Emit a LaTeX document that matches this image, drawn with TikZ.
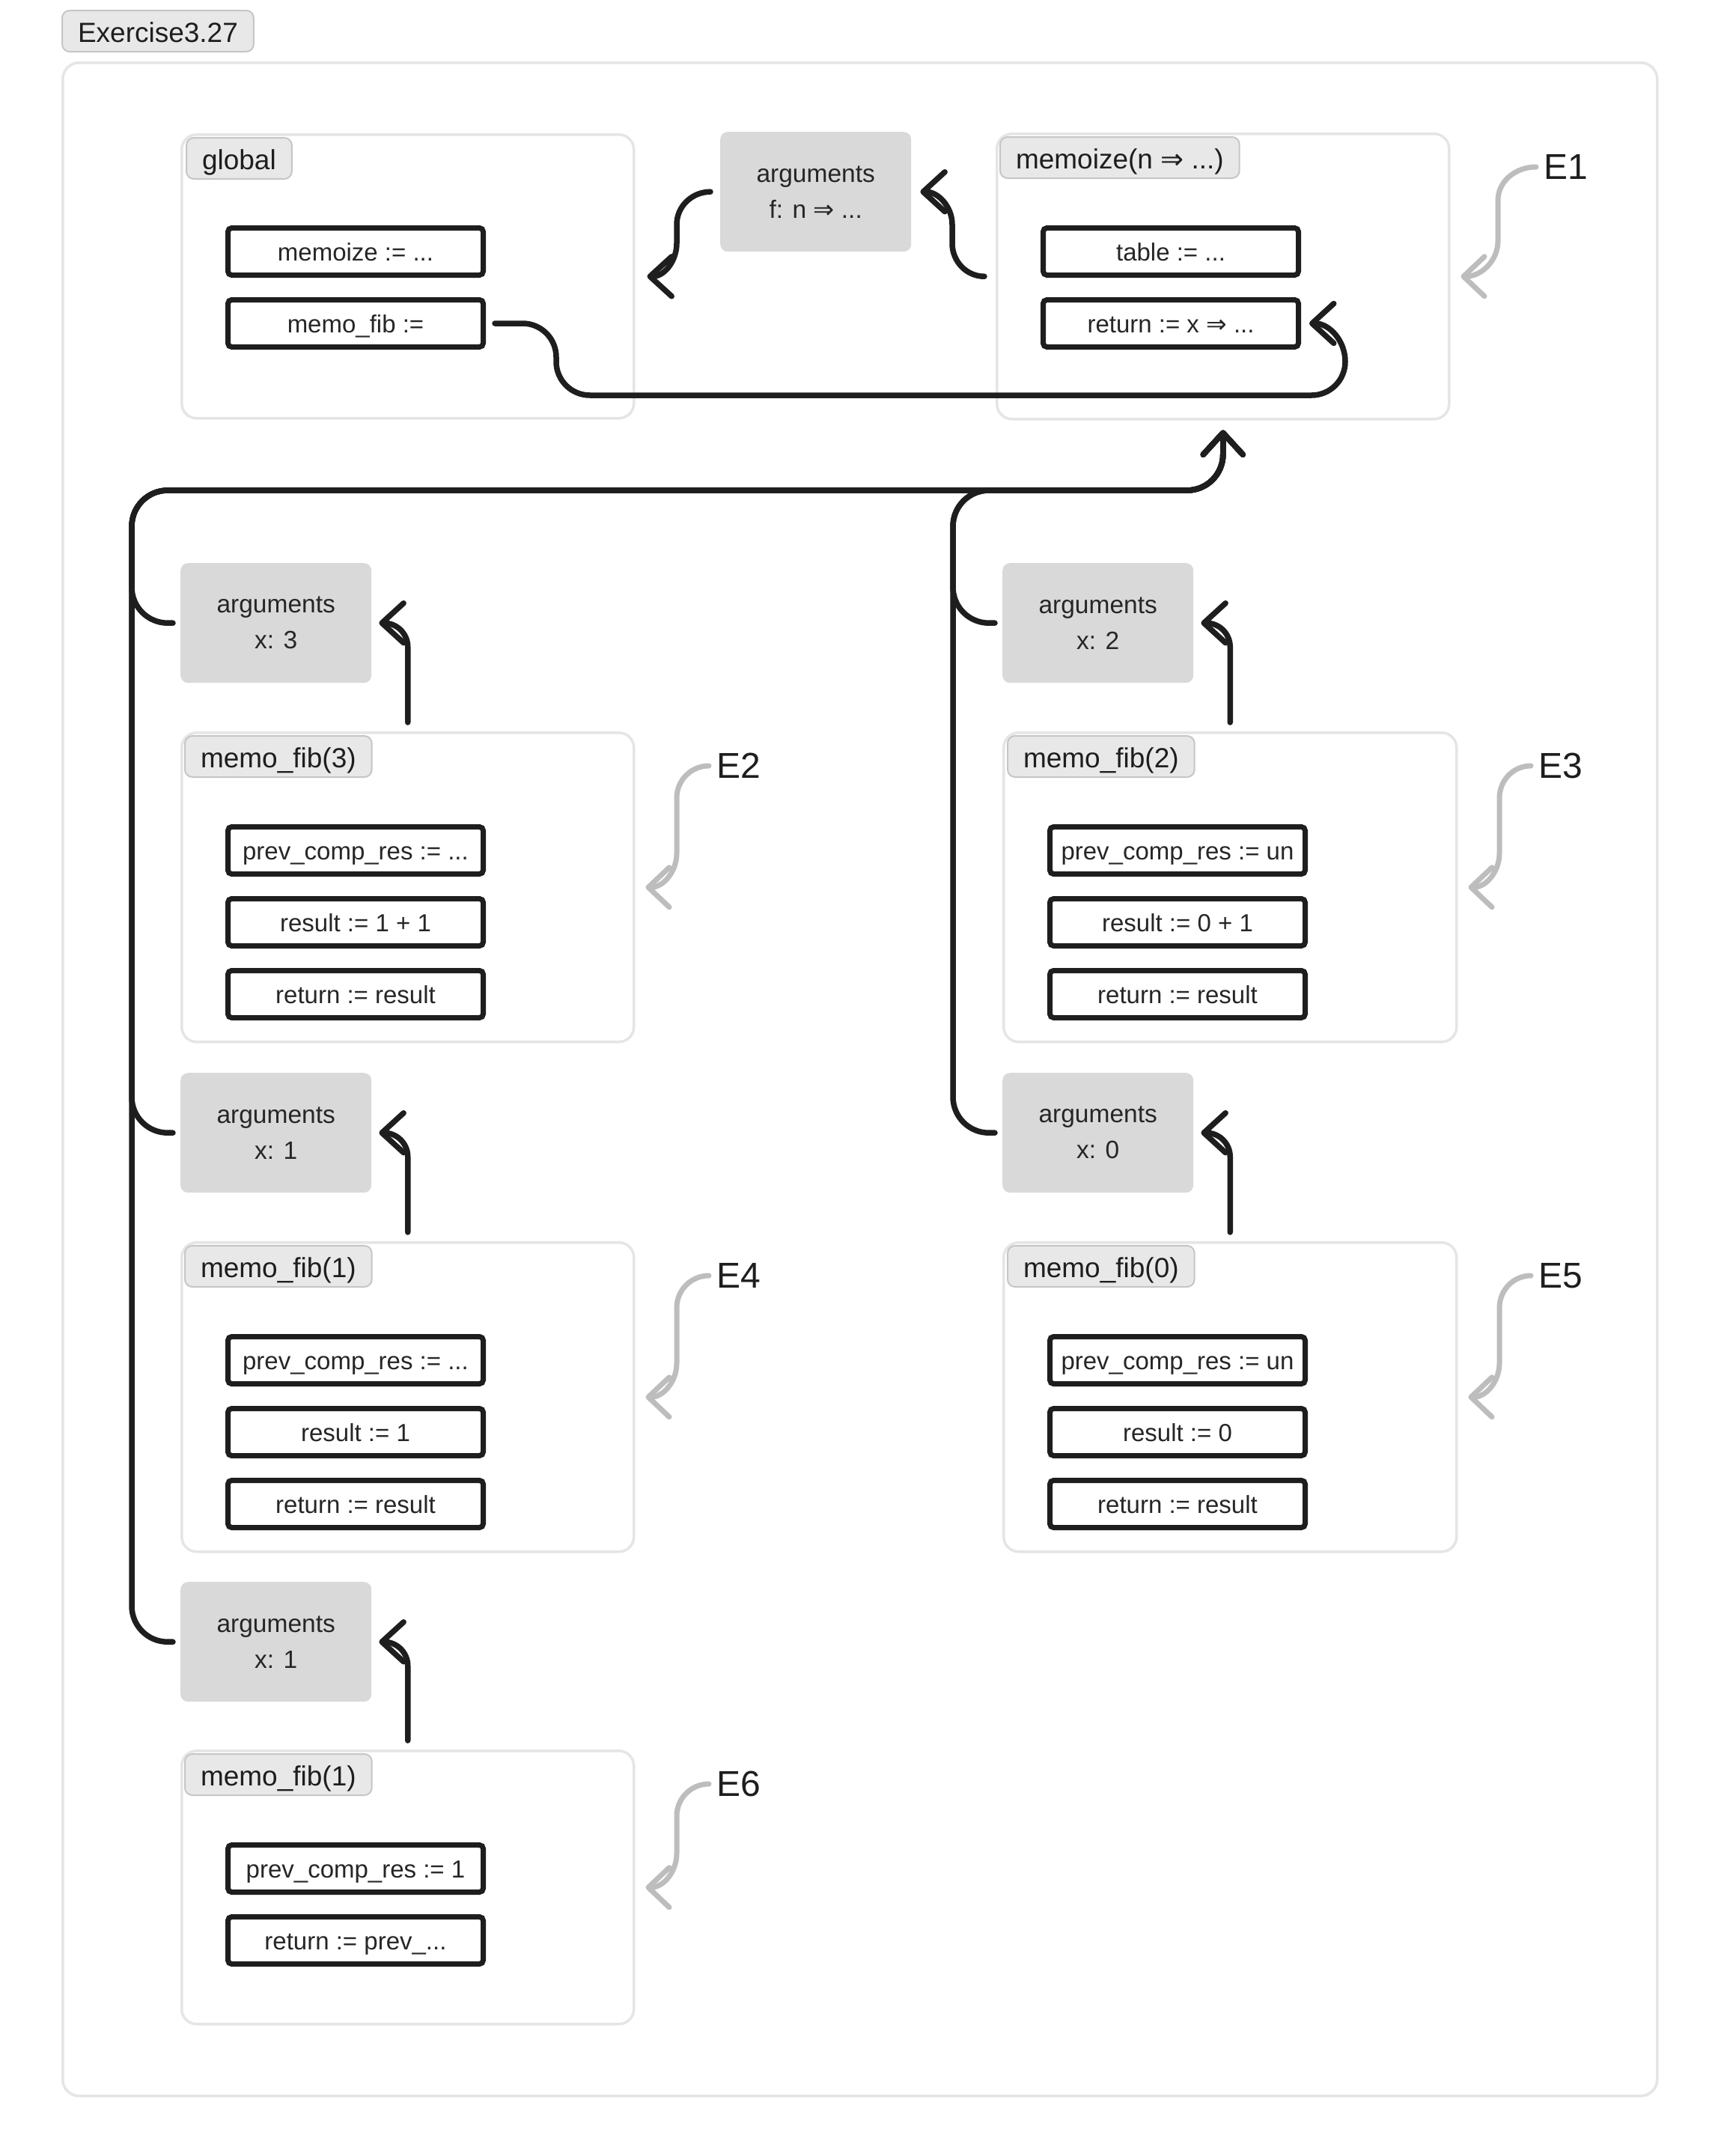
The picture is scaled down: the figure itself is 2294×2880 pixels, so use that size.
\documentclass[tikz,border=0pt]{standalone}
\usepackage{fontspec}
\setmainfont{Liberation Sans}
\newfontfamily\symfont{DejaVu Sans}
\usetikzlibrary{arrows.meta,calc}
\definecolor{ink}{HTML}{1E1E1E}
\definecolor{txt}{HTML}{262626}
\definecolor{framec}{HTML}{E5E5E5}
\definecolor{tabfill}{HTML}{E8E8E8}
\definecolor{tabline}{HTML}{C6C6C6}
\definecolor{argfill}{HTML}{D9D9D9}
\definecolor{gline}{HTML}{BDBDBD}
\newcommand{\dimp}{{\symfont ⇒}}
\begin{document}
\begin{tikzpicture}[x=1pt,y=-1pt,
 frame/.style={draw=framec, line width=3.5pt, rounded corners=20pt, anchor=north west, inner sep=0pt, fill=white},
 tabbox/.style={draw=tabline, line width=2pt, fill=tabfill, rounded corners=10pt, anchor=north west, minimum height=55pt, inner xsep=21pt, inner ysep=0pt, text height=30pt, text depth=0pt, font=\fontsize{37pt}{40pt}\selectfont, text=ink},
 valbox/.style={draw=ink, line width=7pt, rounded corners=5pt, fill=white, anchor=north west, minimum width=341pt, minimum height=63pt, inner sep=0pt, text height=24pt, text depth=0pt, font=\fontsize{33pt}{40pt}\selectfont, text=txt},
 argbox/.style={fill=argfill, rounded corners=10pt, anchor=north west, minimum width=255pt, minimum height=160pt, inner sep=0pt, align=center, font=\fontsize{33.5pt}{48pt}\selectfont, text=txt},
 elabel/.style={anchor=west, inner sep=0pt, font=\fontsize{48pt}{52pt}\selectfont, text=ink},
 conn/.style={draw=ink, line width=7.5pt, line cap=round, line join=round, -{Straight Barb[length=29pt,width=53pt,round]}},
 gconn/.style={draw=gline, line width=7pt, line cap=round, line join=round, -{Straight Barb[length=28pt,width=53pt,round]}},
]
\useasboundingbox (0,0) rectangle (2294,2880);
\fill[white] (0,0) rectangle (2294,2880);

% outer frame and title tab
\node[frame, minimum width=2130pt, minimum height=2716pt, rounded corners=22pt] (outer) at (82,82) {};
\node[tabbox] (extab) at (82,13) {Exercise3.27};

% frames
\node[frame, minimum width=604pt, minimum height=379pt] (gframe) at (241,178) {};
\node[frame, minimum width=604pt, minimum height=381pt] (mframe) at (1330,177) {};
\node[frame, minimum width=604pt, minimum height=413pt] (f3) at (241,977) {};
\node[frame, minimum width=605pt, minimum height=413pt] (f2) at (1339,977) {};
\node[frame, minimum width=604pt, minimum height=413pt] (f1) at (241,1658) {};
\node[frame, minimum width=605pt, minimum height=413pt] (f0) at (1339,1658) {};
\node[frame, minimum width=604pt, minimum height=365pt] (f1b) at (241,2337) {};

% tabs
\node[tabbox] (gtab) at (248,183) {global};
\node[tabbox] (mtab) at (1335,182) {memoize(n \dimp{} ...)};
\node[tabbox] (t3) at (246,982) {memo\_fib(3)};
\node[tabbox] (t2) at (1345,982) {memo\_fib(2)};
\node[tabbox] (t1) at (246,1663) {memo\_fib(1)};
\node[tabbox] (t0) at (1345,1663) {memo\_fib(0)};
\node[tabbox] (t1b) at (246,2342) {memo\_fib(1)};

% value boxes
\node[valbox] (gmem) at (301,301) {memoize := ...};
\node[valbox] (gfib) at (301,397) {memo\_fib :=};
\node[valbox] (mtab1) at (1390,301) {table := ...};
\node[valbox] (mret) at (1390,397) {return := x \dimp{} ...};
\node[valbox] (p3) at (301,1101) {prev\_comp\_res := ...};
\node[valbox] (r3) at (301,1197) {result := 1 + 1};
\node[valbox] (q3) at (301,1293) {return := result};
\node[valbox] (p2) at (1399,1101) {prev\_comp\_res := un};
\node[valbox] (r2) at (1399,1197) {result := 0 + 1};
\node[valbox] (q2) at (1399,1293) {return := result};
\node[valbox] (p1) at (301,1782) {prev\_comp\_res := ...};
\node[valbox] (r1) at (301,1878) {result := 1};
\node[valbox] (q1) at (301,1974) {return := result};
\node[valbox] (p0) at (1399,1782) {prev\_comp\_res := un};
\node[valbox] (r0) at (1399,1878) {result := 0};
\node[valbox] (q0) at (1399,1974) {return := result};
\node[valbox] (p1b) at (301,2461) {prev\_comp\_res := 1};
\node[valbox] (q1b) at (301,2557) {return := prev\_...};

% argument boxes
\node[argbox] (argf) at (962,176) {arguments\\f: n \dimp{} ...};
\node[argbox] (a3) at (241,752) {arguments\\x: 3};
\node[argbox] (a2) at (1339,752) {arguments\\x: 2};
\node[argbox] (a1) at (241,1433) {arguments\\x: 1};
\node[argbox] (a0) at (1339,1433) {arguments\\x: 0};
\node[argbox] (a1b) at (241,2113) {arguments\\x: 1};

% environment labels
\node[elabel] (E1) at (2062,223) {E1};
\node[elabel] (E2) at (957,1023) {E2};
\node[elabel] (E3) at (2055,1023) {E3};
\node[elabel] (E4) at (957,1704) {E4};
\node[elabel] (E5) at (2055,1704) {E5};
\node[elabel] (E6) at (957,2383) {E6};

% helper coordinates
\coordinate (lcorner) at (176,655);
\coordinate (rcorner) at (1273,655);

% memo_fib := ... -> return := x => ...
\draw[conn] ([xshift=12pt]gfib.east) -- ++(37pt,0pt) to[out=0,in=90] ++(45pt,-45pt) -- ++(0pt,-6pt) to[out=-90,in=180] ++(45pt,-45pt) -- ++(964pt,0pt) to[out=0,in=-90] ++(45pt,45pt) to[out=90,in=0] ([xshift=11pt]mret.east);
% memoize frame -> arguments f
\draw[conn] ([xshift=-15pt]mframe.west) to[out=180,in=-90] (1272,325) -- (1272,300) to[out=90,in=0] ([xshift=12pt]argf.east);
% arguments f -> global frame
\draw[conn] ([xshift=-13pt]argf.west) to[out=180,in=90] (904,300) -- (904,325) to[out=-90,in=0] ([xshift=16pt]gframe.east);

% argument frames -> memoize frame (bus)
\foreach \a in {a3,a1,a1b}{
  \draw[conn, rounded corners=48pt] ([xshift=-10pt]\a.west) -| (lcorner) -| ([yshift=-13pt]mframe.south);
}
\foreach \a in {a2,a0}{
  \draw[conn, rounded corners=48pt] ([xshift=-10pt]\a.west) -| (rcorner) -| ([yshift=-13pt]mframe.south);
}

% call frames -> their arguments
\draw[conn, rounded corners=32pt] ([yshift=12pt]f3.north) |- ([xshift=10pt]a3.east);
\draw[conn, rounded corners=32pt] ([yshift=12pt]f2.north) |- ([xshift=10pt]a2.east);
\draw[conn, rounded corners=32pt] ([yshift=12pt]f1.north) |- ([xshift=10pt]a1.east);
\draw[conn, rounded corners=32pt] ([yshift=12pt]f0.north) |- ([xshift=10pt]a0.east);
\draw[conn, rounded corners=32pt] ([yshift=12pt]f1b.north) |- ([xshift=10pt]a1b.east);

% gray environment pointers
\draw[gconn] ([xshift=-10pt]E1.west) to[out=180,in=90] (2001,268) -- (2001,322) to[out=-90,in=0] ([xshift=14pt]mframe.east);
\draw[gconn] ([xshift=-10pt]E3.west) to[out=180,in=90] (2003,1066) -- (2003,1140) to[out=-90,in=0] ([xshift=14pt]f2.east);
\draw[gconn] ([xshift=-10pt]E5.west) to[out=180,in=90] (2003,1747) -- (2003,1821) to[out=-90,in=0] ([xshift=14pt]f0.east);
\draw[gconn] ([xshift=-10pt]E2.west) to[out=180,in=90] (904,1066) -- (904,1140) to[out=-90,in=0] ([xshift=14pt]f3.east);
\draw[gconn] ([xshift=-10pt]E4.west) to[out=180,in=90] (904,1747) -- (904,1821) to[out=-90,in=0] ([xshift=14pt]f1.east);
\draw[gconn] ([xshift=-10pt]E6.west) to[out=180,in=90] (904,2426) -- (904,2476) to[out=-90,in=0] ([xshift=14pt]f1b.east);
\end{tikzpicture}
\end{document}
